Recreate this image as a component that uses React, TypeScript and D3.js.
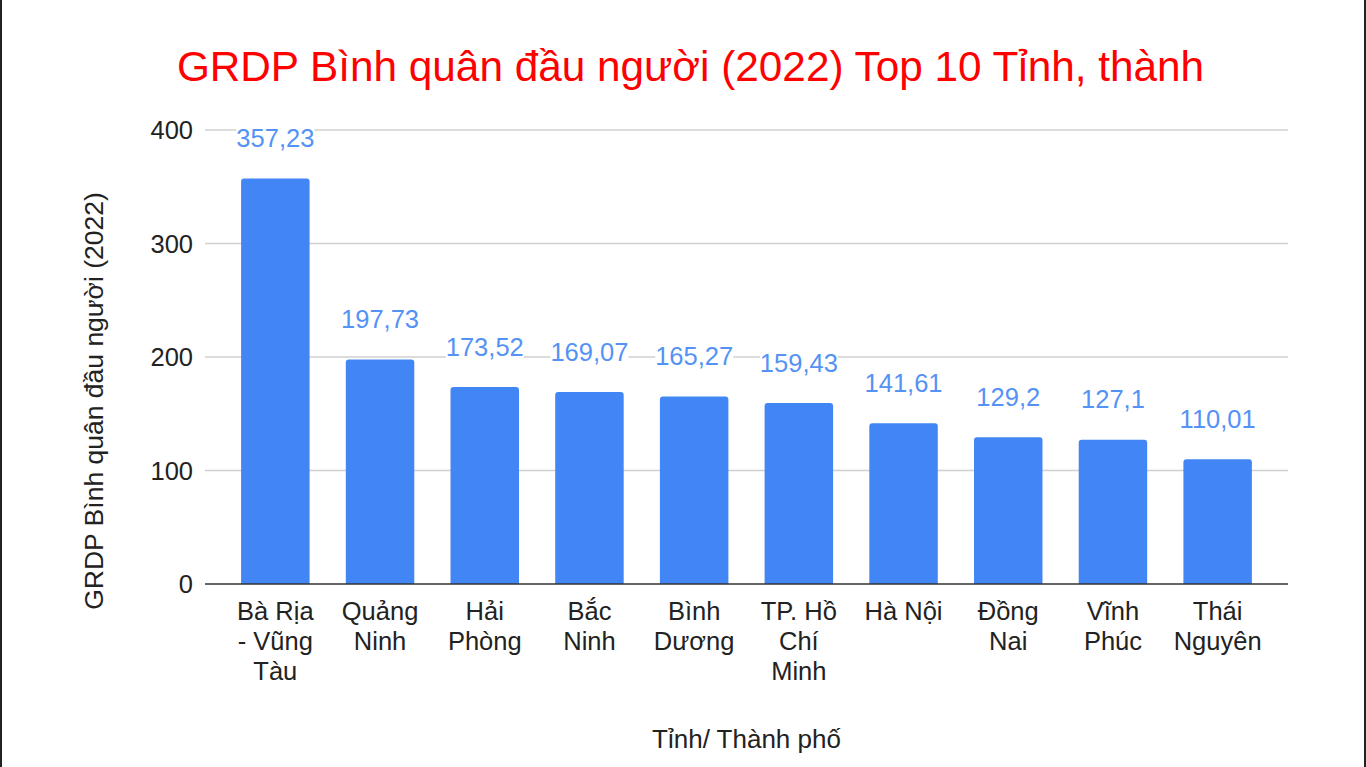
import React, { useEffect, useRef } from "react";
import * as d3 from "d3";

const categories = [
  "Bà Rịa - Vũng Tàu",
  "Quảng Ninh",
  "Hải Phòng",
  "Bắc Ninh",
  "Bình Dương",
  "TP. Hồ Chí Minh",
  "Hà Nội",
  "Đồng Nai",
  "Vĩnh Phúc",
  "Thái Nguyên",
];
const values = [357.23, 197.73, 173.52, 169.07, 165.27, 159.43, 141.61, 129.2, 127.1, 110.01];
const yTicks = [0, 100, 200, 300, 400];

const titleText = "GRDP Bình quân đầu người (2022) Top 10 Tỉnh, thành";
const yTitle = "GRDP Bình quân đầu người (2022)";
const xTitle = "Tỉnh/ Thành phố";

const W = 1366;
const H = 767;
const FONT = "'Liberation Sans', Arial, sans-serif";

export default function App() {
  const ref = useRef<SVGSVGElement | null>(null);

  useEffect(() => {
    const svg = d3.select(ref.current);
    svg.selectAll("*").remove();

    const gridLeft = 205;
    const gridRight = 1288;
    const y = d3.scaleLinear().domain([0, 400]).range([584, 130]);
    const x = d3
      .scaleBand<string>()
      .domain(categories)
      .range([223, 1270])
      .paddingInner(0.346)
      .paddingOuter(0.173);

    svg.append("rect").attr("x", 0).attr("y", 0).attr("width", W).attr("height", H).attr("fill", "#fff");

    // gridlines
    svg
      .append("g")
      .selectAll("line")
      .data(yTicks.filter((t) => t !== 0))
      .join("line")
      .attr("x1", gridLeft)
      .attr("x2", gridRight)
      .attr("y1", (d) => y(d))
      .attr("y2", (d) => y(d))
      .attr("stroke", "#d0d0d0")
      .attr("stroke-width", 1.4);

    // y tick labels
    svg
      .append("g")
      .selectAll("text")
      .data(yTicks)
      .join("text")
      .attr("x", 193)
      .attr("y", (d) => y(d))
      .attr("dy", "0.36em")
      .attr("text-anchor", "end")
      .attr("font-family", FONT)
      .attr("font-size", 25.5)
      .attr("fill", "#222")
      .text((d) => String(d));

    // bars with rounded top corners
    const r = 3;
    svg
      .append("g")
      .selectAll("path")
      .data(values)
      .join("path")
      .attr("fill", "#4285f4")
      .attr("d", (d, i) => {
        const x0 = x(categories[i])!;
        const w = x.bandwidth();
        const y0 = y(d);
        const yb = y(0);
        const p = d3.path();
        p.moveTo(x0, yb);
        p.lineTo(x0, y0 + r);
        p.quadraticCurveTo(x0, y0, x0 + r, y0);
        p.lineTo(x0 + w - r, y0);
        p.quadraticCurveTo(x0 + w, y0, x0 + w, y0 + r);
        p.lineTo(x0 + w, yb);
        p.closePath();
        return p.toString();
      });

    // baseline
    svg
      .append("line")
      .attr("x1", gridLeft)
      .attr("x2", gridRight)
      .attr("y1", y(0))
      .attr("y2", y(0))
      .attr("stroke", "#333")
      .attr("stroke-width", 1.5);

    // data labels with white background
    const lg = svg.append("g");
    values.forEach((v, i) => {
      const cx = x(categories[i])! + x.bandwidth() / 2;
      const g = lg.append("g");
      const bg = g.append("rect").attr("fill", "#fff");
      const t = g
        .append("text")
        .attr("x", cx)
        .attr("y", y(v) - 31.5)
        .attr("text-anchor", "middle")
        .attr("font-family", FONT)
        .attr("font-size", 25.5)
        .attr("fill", "#5592f5")
        .text(String(v).replace(".", ","));
      const bb = (t.node() as SVGTextElement).getBBox();
      bg.attr("x", bb.x).attr("y", bb.y).attr("width", bb.width).attr("height", bb.height);
    });

    // category labels with wrapping
    const canvas = document.createElement("canvas");
    const ctx = canvas.getContext("2d")!;
    ctx.font = `25.5px ${FONT}`;
    const maxW = 88;
    const wrap = (s: string) => {
      const words = s.split(" ");
      const lines: string[] = [];
      let cur = "";
      words.forEach((w) => {
        const test = cur ? cur + " " + w : w;
        if (cur && ctx.measureText(test).width > maxW) {
          lines.push(cur);
          cur = w;
        } else cur = test;
      });
      if (cur) lines.push(cur);
      return lines;
    };
    categories.forEach((c) => {
      const cx = x(c)! + x.bandwidth() / 2;
      const t = svg
        .append("text")
        .attr("text-anchor", "middle")
        .attr("font-family", FONT)
        .attr("font-size", 25.5)
        .attr("fill", "#222");
      wrap(c).forEach((line, k) => {
        t.append("tspan").attr("x", cx).attr("y", 620 + k * 30).text(line);
      });
    });

    // title
    svg
      .append("text")
      .attr("x", 690.5)
      .attr("y", 81)
      .attr("text-anchor", "middle")
      .attr("font-family", FONT)
      .attr("font-size", 42.3)
      .attr("fill", "#ff0000")
      .text(titleText);

    // x axis title
    svg
      .append("text")
      .attr("x", (gridLeft + gridRight) / 2)
      .attr("y", 748)
      .attr("text-anchor", "middle")
      .attr("font-family", FONT)
      .attr("font-size", 26)
      .attr("fill", "#222")
      .text(xTitle);

    // y axis title
    svg
      .append("text")
      .attr("transform", `translate(103, ${(195 + 607) / 2}) rotate(-90)`)
      .attr("text-anchor", "middle")
      .attr("font-family", FONT)
      .attr("font-size", 26.5)
      .attr("fill", "#222")
      .text(yTitle);

    // side borders
    svg.append("line").attr("x1", 1).attr("x2", 1).attr("y1", 0).attr("y2", H).attr("stroke", "#222").attr("stroke-width", 2);
    svg.append("line").attr("x1", 1365).attr("x2", 1365).attr("y1", 0).attr("y2", H).attr("stroke", "#222").attr("stroke-width", 2);
  }, []);

  return (
    <svg
      ref={ref}
      width={W}
      height={H}
      style={{ position: "absolute", left: 0, top: 0, display: "block" }}
    />
  );
}
